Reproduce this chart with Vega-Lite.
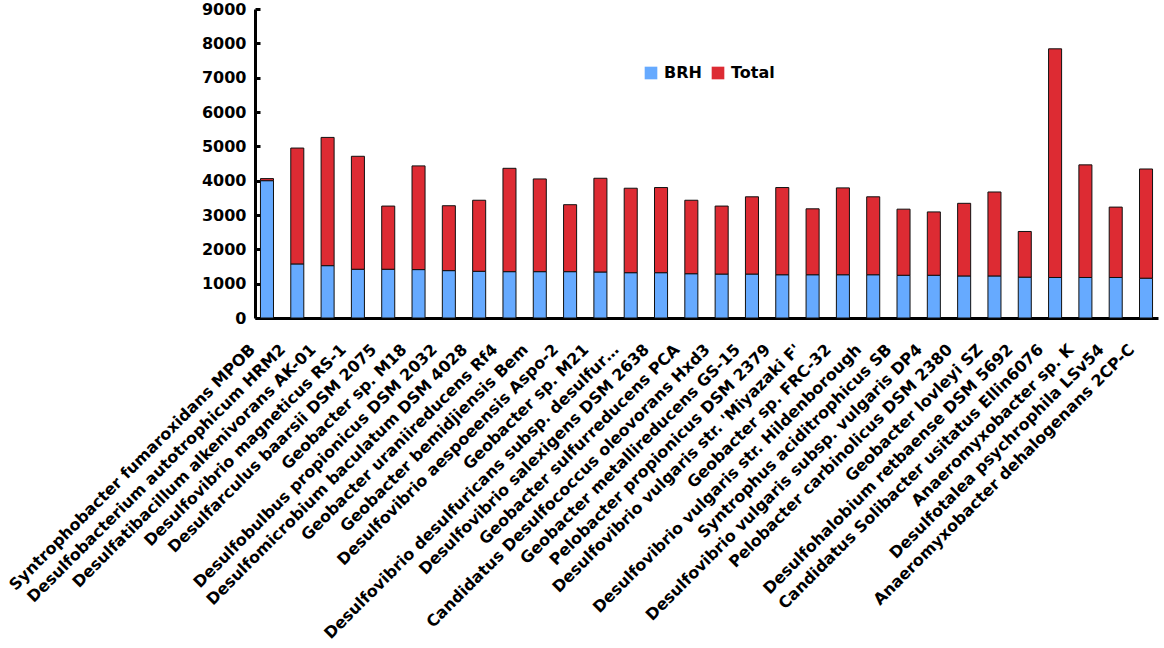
{
  "$schema": "https://vega.github.io/schema/vega-lite/v6.json",
  "autosize": {"type": "none"},
  "padding": {"left": 255, "top": 9, "right": 6, "bottom": 330},
  "width": 903,
  "height": 309,
  "background": "white",
  "config": {
    "font": "DejaVu Sans",
    "view": {"stroke": null}
  },
  "data": {
    "values": [
      {"org": "Syntrophobacter fumaroxidans MPOB", "BRH": 4000, "Total": 4060},
      {"org": "Desulfobacterium autotrophicum HRM2", "BRH": 1575, "Total": 4950},
      {"org": "Desulfatibacillum alkenivorans AK-01", "BRH": 1525, "Total": 5260},
      {"org": "Desulfovibrio magneticus RS-1", "BRH": 1420, "Total": 4710},
      {"org": "Desulfarculus baarsii DSM 2075", "BRH": 1420, "Total": 3260},
      {"org": "Geobacter sp. M18", "BRH": 1410, "Total": 4430},
      {"org": "Desulfobulbus propionicus DSM 2032", "BRH": 1380, "Total": 3270},
      {"org": "Desulfomicrobium baculatum DSM 4028", "BRH": 1360, "Total": 3430},
      {"org": "Geobacter uraniireducens Rf4", "BRH": 1350, "Total": 4360},
      {"org": "Geobacter bemidjiensis Bem", "BRH": 1350, "Total": 4050},
      {"org": "Desulfovibrio aespoeensis Aspo-2", "BRH": 1350, "Total": 3300},
      {"org": "Geobacter sp. M21", "BRH": 1340, "Total": 4070},
      {"org": "Desulfovibrio desulfuricans subsp. desulfur…", "BRH": 1320, "Total": 3780},
      {"org": "Desulfovibrio salexigens DSM 2638", "BRH": 1320, "Total": 3800},
      {"org": "Geobacter sulfurreducens PCA", "BRH": 1290, "Total": 3430},
      {"org": "Candidatus Desulfococcus oleovorans Hxd3", "BRH": 1280, "Total": 3260},
      {"org": "Geobacter metallireducens GS-15", "BRH": 1280, "Total": 3530},
      {"org": "Pelobacter propionicus DSM 2379", "BRH": 1260, "Total": 3800},
      {"org": "Desulfovibrio vulgaris str. 'Miyazaki F'", "BRH": 1260, "Total": 3180},
      {"org": "Geobacter sp. FRC-32", "BRH": 1260, "Total": 3790},
      {"org": "Desulfovibrio vulgaris str. Hildenborough", "BRH": 1260, "Total": 3530},
      {"org": "Syntrophus aciditrophicus SB", "BRH": 1245, "Total": 3170},
      {"org": "Desulfovibrio vulgaris subsp. vulgaris DP4", "BRH": 1245, "Total": 3090},
      {"org": "Pelobacter carbinolicus DSM 2380", "BRH": 1225, "Total": 3340},
      {"org": "Geobacter lovleyi SZ", "BRH": 1225, "Total": 3670},
      {"org": "Desulfohalobium retbaense DSM 5692", "BRH": 1190, "Total": 2520},
      {"org": "Candidatus Solibacter usitatus Ellin6076", "BRH": 1180, "Total": 7840},
      {"org": "Anaeromyxobacter sp. K", "BRH": 1180, "Total": 4460},
      {"org": "Desulfotalea psychrophila LSv54", "BRH": 1180, "Total": 3230},
      {"org": "Anaeromyxobacter dehalogenans 2CP-C", "BRH": 1160, "Total": 4340}
    ]
  },
  "encoding": {
    "x": {
      "field": "org",
      "type": "nominal",
      "sort": null,
      "title": null,
      "scale": {"paddingInner": 0.57, "paddingOuter": 0.18},
      "axis": {
        "labelAngle": -45,
        "labelFont": "DejaVu Sans",
        "labelFontWeight": "bold",
        "labelFontSize": 16,
        "labelColor": "black",
        "labelLimit": 500,
        "labelPadding": 23,
        "labelOffset": -20,
        "labelOverlap": false,
        "ticks": false,
        "domainColor": "black",
        "domainWidth": 3
      }
    },
    "y": {
      "field": "BRH",
      "type": "quantitative",
      "title": null,
      "scale": {"domain": [0, 9000], "nice": false},
      "axis": {
        "values": [0, 1000, 2000, 3000, 4000, 5000, 6000, 7000, 8000, 9000],
        "format": "d",
        "labelOverlap": false,
        "grid": false,
        "labelFont": "DejaVu Sans",
        "labelFontWeight": "bold",
        "labelFontSize": 16,
        "labelColor": "black",
        "labelPadding": 14,
        "tickSize": -5,
        "tickWidth": 3,
        "tickColor": "black",
        "domainColor": "black",
        "domainWidth": 3
      }
    }
  },
  "layer": [
    {
      "mark": {"type": "bar", "stroke": "#111111", "strokeWidth": 1},
      "encoding": {
        "color": {
          "datum": "BRH",
          "type": "nominal",
          "scale": {"domain": ["BRH", "Total"], "range": ["#66aaff", "#dd2b33"]},
          "legend": {
            "title": null,
            "orient": "none",
            "direction": "horizontal",
            "legendX": 388,
            "legendY": 56,
            "symbolType": "square",
            "symbolSize": 160,
            "symbolStrokeWidth": 0,
            "labelFont": "DejaVu Sans",
            "labelFontWeight": "bold",
            "labelFontSize": 16,
            "labelColor": "black",
            "columnPadding": 8,
            "labelOffset": 5
          }
        }
      }
    },
    {
      "mark": {"type": "bar", "stroke": "#111111", "strokeWidth": 1},
      "encoding": {
        "y2": {"field": "Total"},
        "color": {"datum": "Total", "type": "nominal"}
      }
    }
  ]
}
